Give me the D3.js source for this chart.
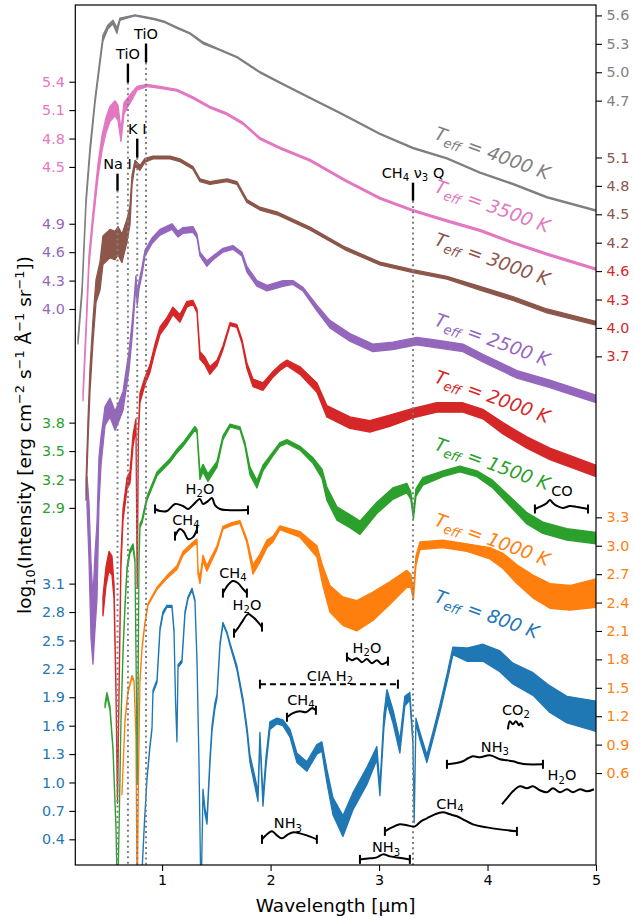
<!DOCTYPE html>
<html>
<head>
<meta charset="utf-8">
<script src="https://cdn.jsdelivr.net/npm/d3@7"></script>
<style>
  body { margin: 0; background: #fff; }
  text { font-family: "DejaVu Sans", sans-serif; }
</style>
</head>
<body>
<svg id="chart" width="634" height="918"></svg>
<script>
// ---------------------------------------------------------------
// Model spectra, log10 intensity per effective temperature.
// Wavelengths in micron; flux in each spectrum's own log10 units;
// noise = half-width of the scatter band at that wavelength.
// ---------------------------------------------------------------
const wave4000 = [0.225,0.262,0.299,0.335,0.382,0.428,0.455,0.501,0.547,0.584,0.612,0.677,0.750,0.842,0.935,1.027,1.137,1.257,1.377,1.506,1.690,1.902,2.086,2.363,2.639,3.008,3.312,3.626,3.930,4.234,4.548,5.0];
const flux4000 = [2.16,2.69,3.64,4.17,4.70,5.12,5.36,5.48,5.53,5.44,5.56,5.58,5.60,5.58,5.56,5.53,5.47,5.41,5.31,5.25,5.16,5.00,4.89,4.73,4.57,4.35,4.20,4.09,3.94,3.82,3.68,3.54];
const noise4000 = [0.03,0.04,0.04,0.04,0.03,0.03,0.03,0.02,0.02,0.03,0.012,0.008,0.006,0.006,0.006,0.006,0.006,0.006,0.01,0.006,0.006,0.006,0.006,0.006,0.006,0.006,0.006,0.006,0.006,0.006,0.006,0.006];

const wave3500 = [0.271,0.299,0.326,0.363,0.409,0.446,0.483,0.520,0.566,0.594,0.621,0.649,0.677,0.724,0.769,0.861,0.981,1.137,1.285,1.442,1.598,1.746,1.902,2.086,2.363,2.686,3.008,3.313,3.626,3.930,4.235,4.548,5.0];
const flux3500 = [2.08,2.77,3.51,3.96,4.46,4.75,4.94,5.06,5.12,5.07,4.83,5.12,5.17,5.25,5.33,5.36,5.34,5.31,5.23,5.13,5.06,4.96,4.80,4.70,4.57,4.36,4.17,4.04,3.93,3.83,3.70,3.58,3.42];
const noise3500 = [0.05,0.06,0.06,0.06,0.07,0.08,0.08,0.08,0.08,0.08,0.06,0.06,0.05,0.04,0.02,0.012,0.01,0.01,0.01,0.01,0.01,0.01,0.01,0.01,0.01,0.01,0.01,0.01,0.01,0.01,0.01,0.01,0.01];

const wave3000 = [0.299,0.317,0.335,0.363,0.391,0.428,0.455,0.520,0.566,0.594,0.630,0.677,0.704,0.723,0.750,0.796,0.842,0.916,1.073,1.165,1.285,1.349,1.441,1.598,1.690,1.782,1.902,2.059,2.363,2.686,3.008,3.312,3.626,3.930,4.234,4.548,5.0];
const flux3000 = [1.58,2.21,2.74,3.27,3.69,3.85,4.12,4.19,4.17,4.22,4.14,4.33,4.49,4.86,5.04,4.99,5.07,5.10,5.10,5.07,4.99,4.86,4.83,4.86,4.83,4.64,4.56,4.51,4.35,4.14,3.98,3.90,3.83,3.72,3.61,3.48,3.35];
const noise3000 = [0.1,0.12,0.12,0.12,0.12,0.15,0.15,0.15,0.15,0.15,0.15,0.12,0.1,0.05,0.03,0.025,0.02,0.015,0.015,0.015,0.015,0.015,0.015,0.015,0.015,0.015,0.015,0.015,0.015,0.015,0.015,0.015,0.015,0.02,0.02,0.02,0.02];

const wave2500 = [0.308,0.326,0.345,0.363,0.382,0.400,0.418,0.437,0.474,0.520,0.566,0.603,0.640,0.667,0.695,0.723,0.741,0.759,0.771,0.787,0.815,0.842,0.907,0.981,1.091,1.147,1.193,1.285,1.322,1.349,1.413,1.469,1.561,1.653,1.736,1.782,1.874,1.967,2.114,2.206,2.298,2.427,2.547,2.731,2.943,3.127,3.349,3.533,3.773,3.957,4.271,4.575,5.0];
const flux2500 = [2.08,1.66,0.92,0.60,1.02,1.34,2.18,2.50,2.87,2.96,2.82,2.92,3.03,3.24,3.45,3.77,4.03,4.30,4.09,4.25,4.40,4.59,4.72,4.81,4.87,4.79,4.83,4.84,4.77,4.58,4.48,4.54,4.62,4.65,4.58,4.42,4.27,4.22,4.27,4.28,4.21,4.01,3.84,3.70,3.59,3.61,3.66,3.63,3.59,3.48,3.31,3.21,3.05];
const noise2500 = [0.15,0.3,0.4,0.35,0.4,0.4,0.25,0.15,0.1,0.1,0.1,0.1,0.1,0.1,0.1,0.08,0.06,0.05,0.05,0.04,0.04,0.03,0.03,0.03,0.03,0.03,0.03,0.03,0.02,0.02,0.03,0.02,0.02,0.02,0.02,0.03,0.03,0.03,0.03,0.02,0.02,0.03,0.04,0.04,0.04,0.04,0.04,0.04,0.04,0.04,0.04,0.04,0.04];

const wave2000 = [0.455,0.483,0.511,0.538,0.557,0.575,0.589,0.603,0.621,0.640,0.677,0.704,0.732,0.759,0.771,0.782,0.796,0.842,0.888,0.935,0.981,1.045,1.100,1.165,1.229,1.285,1.322,1.349,1.395,1.441,1.506,1.561,1.626,1.690,1.736,1.782,1.838,1.930,2.022,2.086,2.151,2.271,2.427,2.519,2.731,2.915,3.099,3.312,3.533,3.773,3.957,4.142,4.363,4.575,5.0];
const flux2000 = [1.06,1.38,1.54,1.49,1.22,0.16,-1.00,0.16,1.54,2.03,2.36,2.42,2.81,2.99,1.27,2.91,3.26,3.44,3.57,3.79,3.97,4.07,4.18,4.10,4.25,4.27,4.18,3.71,3.65,3.55,3.63,3.79,4.04,4.02,3.86,3.60,3.42,3.38,3.51,3.58,3.63,3.55,3.37,3.12,3.00,2.96,3.02,3.10,3.16,3.16,3.09,2.94,2.79,2.67,2.49];
const noise2000 = [0.1,0.1,0.1,0.1,0.08,0.03,0.02,0.03,0.06,0.06,0.06,0.06,0.06,0.05,0.02,0.03,0.05,0.04,0.04,0.04,0.04,0.04,0.04,0.04,0.03,0.02,0.02,0.04,0.04,0.04,0.03,0.02,0.015,0.015,0.02,0.03,0.04,0.04,0.03,0.03,0.03,0.04,0.05,0.06,0.06,0.06,0.06,0.05,0.05,0.05,0.05,0.06,0.06,0.06,0.06];

const wave1500 = [0.474,0.492,0.520,0.547,0.575,0.589,0.603,0.621,0.640,0.658,0.677,0.704,0.732,0.750,0.764,0.771,0.778,0.787,0.796,0.815,0.861,0.953,1.073,1.137,1.193,1.303,1.322,1.349,1.377,1.423,1.506,1.561,1.626,1.718,1.764,1.810,1.874,1.930,2.022,2.086,2.151,2.271,2.391,2.474,2.519,2.612,2.731,2.824,2.980,3.127,3.256,3.293,3.317,3.340,3.404,3.589,3.745,3.902,4.049,4.206,4.363,4.510,4.731,5.0];
const flux1500 = [0.81,0.93,0.78,0.36,-0.48,-1.30,-0.52,0.65,1.39,1.86,2.26,2.44,2.50,2.34,0.86,0.01,0.86,2.34,2.71,2.76,3.00,3.26,3.40,3.50,3.57,3.74,3.71,3.24,3.32,3.22,3.36,3.64,3.77,3.74,3.57,3.29,3.15,3.32,3.47,3.57,3.60,3.53,3.40,3.26,3.05,2.84,2.76,2.69,2.90,3.05,3.11,3.03,2.81,3.06,3.18,3.26,3.31,3.26,3.15,2.97,2.79,2.69,2.62,2.58];
const noise1500 = [0.02,0.02,0.02,0.015,0.01,0.01,0.01,0.015,0.02,0.02,0.02,0.02,0.02,0.02,0.01,0.01,0.01,0.02,0.02,0.02,0.02,0.02,0.02,0.02,0.02,0.02,0.02,0.04,0.04,0.04,0.03,0.02,0.015,0.015,0.02,0.04,0.04,0.03,0.02,0.02,0.02,0.02,0.03,0.05,0.07,0.07,0.07,0.07,0.06,0.06,0.05,0.04,0.03,0.04,0.04,0.03,0.03,0.03,0.04,0.05,0.06,0.06,0.06,0.06];

const wave1000 = [0.630,0.658,0.686,0.723,0.741,0.759,0.770,0.782,0.796,0.815,0.842,0.870,0.953,1.045,1.137,1.193,1.285,1.322,1.331,1.349,1.377,1.413,1.506,1.561,1.644,1.718,1.782,1.838,1.902,1.967,2.022,2.086,2.271,2.427,2.482,2.547,2.666,2.795,2.943,3.099,3.256,3.293,3.317,3.340,3.377,3.589,3.810,4.022,4.142,4.271,4.418,4.575,4.759,5.0];
const flux1000 = [0.38,1.15,1.46,1.62,1.57,0.99,-0.76,0.51,1.57,1.92,2.18,2.38,2.55,2.67,2.77,2.92,3.02,3.05,2.73,2.63,2.87,2.76,2.98,3.19,3.23,3.25,3.05,2.75,2.87,3.02,3.07,3.19,3.12,2.94,2.68,2.44,2.31,2.26,2.36,2.50,2.65,2.63,2.47,2.84,3.00,3.02,2.98,2.92,2.84,2.70,2.57,2.47,2.45,2.50];
const noise1000 = [0.01,0.01,0.01,0.01,0.01,0.01,0.01,0.01,0.01,0.01,0.01,0.01,0.012,0.015,0.02,0.02,0.02,0.02,0.03,0.03,0.03,0.03,0.02,0.015,0.015,0.015,0.02,0.05,0.04,0.04,0.03,0.02,0.03,0.06,0.1,0.14,0.15,0.16,0.15,0.12,0.09,0.07,0.04,0.05,0.04,0.04,0.04,0.06,0.08,0.1,0.12,0.13,0.13,0.15];

const wave800 = [0.796,0.815,0.838,0.861,0.888,0.907,0.916,0.953,0.981,1.008,1.045,1.091,1.110,1.124,1.137,1.147,1.183,1.211,1.239,1.276,1.303,1.322,1.340,1.359,1.377,1.395,1.414,1.441,1.460,1.487,1.506,1.534,1.561,1.598,1.626,1.690,1.746,1.782,1.810,1.856,1.884,1.902,1.930,1.958,1.994,2.059,2.114,2.179,2.243,2.335,2.427,2.473,2.519,2.575,2.667,2.759,2.888,2.980,3.008,3.045,3.073,3.128,3.192,3.238,3.284,3.312,3.324,3.340,3.377,3.441,3.496,3.561,3.626,3.681,3.810,3.958,4.114,4.234,4.419,4.575,4.732,5.0];
const flux800 = [-0.26,0.06,0.59,1.04,1.38,1.57,1.96,2.07,2.62,2.79,2.86,2.86,2.60,1.86,1.44,2.23,2.28,2.79,2.95,3.04,2.92,2.28,1.22,-0.26,0.91,0.70,0.59,1.22,1.57,1.81,1.91,2.46,2.68,2.58,2.46,2.21,1.86,1.56,1.25,1.01,0.85,1.49,0.80,1.22,1.60,1.65,1.63,1.52,1.26,1.17,1.35,1.38,1.07,0.75,0.54,0.80,1.07,1.31,0.91,1.65,1.91,1.70,1.38,1.86,1.91,1.44,0.59,1.65,1.49,1.25,1.49,1.78,2.10,2.39,2.35,2.37,2.28,2.15,2.04,1.88,1.77,1.70];
const noise800 = [0.01,0.01,0.01,0.01,0.01,0.01,0.015,0.015,0.015,0.015,0.01,0.01,0.015,0.015,0.01,0.015,0.015,0.015,0.01,0.01,0.01,0.015,0.015,0.01,0.02,0.03,0.03,0.03,0.03,0.03,0.02,0.015,0.01,0.01,0.015,0.02,0.025,0.03,0.04,0.05,0.05,0.04,0.05,0.05,0.04,0.03,0.03,0.04,0.05,0.05,0.05,0.05,0.07,0.09,0.11,0.09,0.09,0.07,0.05,0.07,0.07,0.07,0.07,0.05,0.04,0.03,0.015,0.03,0.04,0.04,0.04,0.04,0.04,0.04,0.07,0.09,0.11,0.11,0.12,0.14,0.14,0.16];

// Per-spectrum settings (coolest first, so hotter spectra sit on top)
const temps    = [800, 1000, 1500, 2000, 2500, 3000, 3500, 4000];
const colours  = ["#1f77b4", "#ff7f0e", "#2ca02c", "#d62728", "#9467bd", "#8c564b", "#e377c2", "#7f7f7f"];
const offsets  = [0, 0.5, 1.0, 1.8, 2.0, 2.5, 3.0, 3.5];        // vertical stacking shift
const axisSide = ["left", "right", "left", "right", "left", "right", "left", "right"];
const ticks800  = [0.4, 0.7, 1.0, 1.3, 1.6, 1.9, 2.2, 2.5, 2.8, 3.1];
const ticks1000 = [0.6, 0.9, 1.2, 1.5, 1.8, 2.1, 2.4, 2.7, 3.0, 3.3];
const ticks1500 = [2.9, 3.2, 3.5, 3.8];
const ticks2000 = [3.7, 4.0, 4.3, 4.6];
const ticks2500 = [4.0, 4.3, 4.6, 4.9];
const ticks3000 = [4.2, 4.5, 4.8, 5.1];
const ticks3500 = [4.5, 4.8, 5.1, 5.4];
const ticks4000 = [4.7, 5.0, 5.3, 5.6];
const xTicks    = [1, 2, 3, 4, 5];
// Temperature captions: anchor wavelength and level (own log10 units)
const captionWave  = 3.5;
const captionLevel = [2.91, 3.22, 3.52, 3.43, 3.83, 4.18, 4.24, 4.30];

// Atomic / molecular line identifications (levels in stacked plot units)
const lineWave   = [0.589, 0.685, 0.771, 0.852, 3.313];
const lineTop    = [7.429, 8.592, 7.799, 8.803, 7.334];
const lineBottom = [7.250, 8.391, 7.598, 8.603, 7.144];

// Opacity band outlines (wavelength, level in stacked plot units)
const waterJ_w = [0.935,0.981,1.045,1.119,1.193,1.239,1.285,1.349,1.377,1.423,1.460,1.487,1.534,1.598,1.792];
const waterJ_y = [3.888,3.867,3.867,3.941,3.920,3.888,3.930,3.994,3.941,3.972,4.004,3.930,3.888,3.877,3.877];
const methJ_w  = [1.119,1.165,1.202,1.239,1.285,1.322];
const methJ_y  = [3.602,3.676,3.644,3.570,3.591,3.676];
const methH_w  = [1.561,1.607,1.653,1.699,1.746,1.782];
const methH_y  = [3.000,3.085,3.127,3.106,3.043,3.000];
const waterH_w = [1.663,1.699,1.736,1.792,1.838,1.884,1.921];
const waterH_y = [2.577,2.630,2.694,2.778,2.747,2.694,2.641];
const ciaH2_w  = [1.902,3.174];
const ciaH2_y  = [2.038,2.038];
const waterL_w = [2.704,2.750,2.796,2.842,2.888,2.934,2.980,3.026,3.082];
const waterL_y = [2.324,2.292,2.313,2.271,2.303,2.260,2.292,2.250,2.281];
const methK_w  = [2.151,2.206,2.271,2.326,2.381,2.418];
const methK_y  = [1.689,1.732,1.753,1.742,1.784,1.763];
const ammK_w   = [1.921,1.967,2.013,2.059,2.105,2.161,2.216,2.271,2.335,2.427];
const ammK_y   = [0.400,0.453,0.484,0.442,0.410,0.453,0.474,0.463,0.442,0.400];
const ammL_w   = [2.824,2.916,2.980,3.035,3.100,3.164,3.284];
const ammL_y   = [0.188,0.199,0.209,0.241,0.220,0.209,0.188];
const methL_w  = [3.054,3.119,3.192,3.257,3.331,3.386,3.441,3.515,3.589,3.654,3.718,3.792,3.866,3.995,4.114,4.271];
const methL_y  = [0.484,0.526,0.558,0.548,0.537,0.590,0.621,0.664,0.685,0.664,0.643,0.600,0.558,0.526,0.505,0.484];
const ammM_w   = [3.626,3.700,3.773,3.820,3.866,3.930,4.022,4.114,4.179,4.234,4.299,4.363,4.511];
const ammM_y   = [1.192,1.203,1.224,1.256,1.277,1.266,1.288,1.245,1.235,1.224,1.203,1.192,1.192];
const co2_w    = [4.188,4.206,4.234,4.262,4.290,4.308,4.326];
const co2_y    = [1.562,1.647,1.615,1.647,1.605,1.626,1.584];
const waterM_w = [4.133,4.179,4.234,4.299,4.363,4.419,4.483,4.548,4.603,4.668,4.732,4.787,4.852,4.916,4.981];
const waterM_y = [0.770,0.833,0.907,0.960,0.939,0.960,0.918,0.897,0.939,0.897,0.929,0.897,0.929,0.907,0.929];
const co_w     = [4.437,4.502,4.548,4.575,4.603,4.640,4.695,4.760,4.825,4.926];
const co_y     = [3.888,3.920,3.952,3.983,3.952,3.920,3.899,3.920,3.909,3.888];
// caption positions of the bands (wavelength, baseline level)
const bandTextWave  = [1.349, 1.220, 1.653, 1.782, 2.548, 2.889, 2.280, 2.160, 3.064, 3.654, 4.068, 4.262, 4.686, 4.686];
const bandTextLevel = [4.047, 3.719, 3.159, 2.820, 2.070, 2.366, 1.816, 0.516, 0.262, 0.717, 1.319, 1.710, 1.023, 4.025];

// ---------------------------------------------------------------
const plot = { left: 75.3, right: 596, top: 5, bottom: 865 };
const x = d3.scaleLinear().domain([0.2, 5]).range([plot.left, plot.right]);
const y = d3.scaleLinear().domain([0.1288, 9.210]).range([plot.bottom, plot.top]);

const svg = d3.select("#chart");
svg.append("defs").append("clipPath").attr("id", "plotClip")
  .append("rect")
  .attr("x", plot.left).attr("y", plot.top)
  .attr("width", plot.right - plot.left).attr("height", plot.bottom - plot.top);

const waves  = [wave800, wave1000, wave1500, wave2000, wave2500, wave3000, wave3500, wave4000];
const fluxes = [flux800, flux1000, flux1500, flux2000, flux2500, flux3000, flux3500, flux4000];
const noises = [noise800, noise1000, noise1500, noise2000, noise2500, noise3000, noise3500, noise4000];
const tickSets = [ticks800, ticks1000, ticks1500, ticks2000, ticks2500, ticks3000, ticks3500, ticks4000];

const spectra = temps.map((t, i) => ({
  temp: t, colour: colours[i], offset: offsets[i], side: axisSide[i], ticks: tickSets[i],
  points: waves[i].map((w, j) => ({ w, f: fluxes[i][j], n: noises[i][j] }))
}));

// spectra: scatter band with its outline
const specLayer = svg.append("g").attr("clip-path", "url(#plotClip)");
spectra.forEach(s => {
  const band = d3.area()
    .x(d => x(d.w))
    .y0(d => y(d.f + s.offset - d.n))
    .y1(d => y(d.f + s.offset + d.n));
  specLayer.append("path")
    .attr("d", band(s.points))
    .attr("fill", s.colour)
    .attr("stroke", s.colour)
    .attr("stroke-width", 1.3)
    .attr("stroke-linejoin", "round");
});

// dotted guides under each line identification
const guideLayer = svg.append("g").attr("clip-path", "url(#plotClip)");
lineWave.forEach((w, i) => {
  guideLayer.append("line")
    .attr("x1", x(w)).attr("x2", x(w))
    .attr("y1", y(lineBottom[i])).attr("y2", plot.bottom)
    .attr("stroke", "#808080").attr("stroke-width", 2)
    .attr("stroke-dasharray", "2,3.3");
});

// rich text helper: parts = [[text, "sub"|"sup"|null], ...]
function richText(sel, parts, fs) {
  let shift = 0;
  parts.forEach(([t, kind]) => {
    let target = 0, size = fs;
    if (kind === "sub") { target = 0.22 * fs; size = 0.7 * fs; }
    if (kind === "sup") { target = -0.38 * fs; size = 0.7 * fs; }
    const ts = sel.append("tspan").attr("font-size", size).text(t);
    if (target - shift !== 0) ts.attr("dy", target - shift);
    shift = target;
  });
}

// line identification markers
const annLayer = svg.append("g");
const lineNames = [
  [["Na I", null]],
  [["TiO", null]],
  [["K I", null]],
  [["TiO", null]],
  [["CH", null], ["4", "sub"], [" ν", null], ["3", "sub"], [" Q", null]]
];
lineWave.forEach((w, i) => {
  annLayer.append("line")
    .attr("x1", x(w)).attr("x2", x(w))
    .attr("y1", y(lineTop[i])).attr("y2", y(lineBottom[i]))
    .attr("stroke", "#000").attr("stroke-width", 2.4);
  const t = annLayer.append("text")
    .attr("x", x(w)).attr("y", y(lineTop[i]) - 5)
    .attr("text-anchor", "middle").attr("font-size", 14.5).attr("fill", "#000");
  richText(t, lineNames[i], 14.5);
});

// opacity band outlines
const bands = [
  { w: waterJ_w, y: waterJ_y, name: [["H", null], ["2", "sub"], ["O", null]], caps: [1, 1] },
  { w: methJ_w,  y: methJ_y,  name: [["CH", null], ["4", "sub"]], caps: [1, 1] },
  { w: methH_w,  y: methH_y,  name: [["CH", null], ["4", "sub"]], caps: [1, 1] },
  { w: waterH_w, y: waterH_y, name: [["H", null], ["2", "sub"], ["O", null]], caps: [1, 1] },
  { w: ciaH2_w,  y: ciaH2_y,  name: [["CIA H", null], ["2", "sub"]], caps: [1, 1], dashed: true },
  { w: waterL_w, y: waterL_y, name: [["H", null], ["2", "sub"], ["O", null]], caps: [1, 1] },
  { w: methK_w,  y: methK_y,  name: [["CH", null], ["4", "sub"]], caps: [1, 1] },
  { w: ammK_w,   y: ammK_y,   name: [["NH", null], ["3", "sub"]], caps: [1, 1] },
  { w: ammL_w,   y: ammL_y,   name: [["NH", null], ["3", "sub"]], caps: [1, 1] },
  { w: methL_w,  y: methL_y,  name: [["CH", null], ["4", "sub"]], caps: [1, 1] },
  { w: ammM_w,   y: ammM_y,   name: [["NH", null], ["3", "sub"]], caps: [1, 1] },
  { w: co2_w,    y: co2_y,    name: [["CO", null], ["2", "sub"]], caps: [0, 0] },
  { w: waterM_w, y: waterM_y, name: [["H", null], ["2", "sub"], ["O", null]], caps: [0, 0] },
  { w: co_w,     y: co_y,     name: [["CO", null]], caps: [1, 1] }
];
const outline = d3.line().x(d => x(d[0])).y(d => y(d[1])).curve(d3.curveCatmullRom.alpha(0.5));
bands.forEach((b, i) => {
  const pts = b.w.map((w, j) => [w, b.y[j]]);
  annLayer.append("path")
    .attr("d", outline(pts))
    .attr("fill", "none").attr("stroke", "#000").attr("stroke-width", 2)
    .attr("stroke-dasharray", b.dashed ? "6,4" : null);
  [0, pts.length - 1].forEach((k, e) => {
    if (!b.caps[e]) return;
    const px = x(pts[k][0]), py = y(pts[k][1]);
    annLayer.append("line")
      .attr("x1", px).attr("x2", px).attr("y1", py - 4.5).attr("y2", py + 4.5)
      .attr("stroke", "#000").attr("stroke-width", 2);
  });
  const t = annLayer.append("text")
    .attr("x", x(bandTextWave[i])).attr("y", y(bandTextLevel[i]))
    .attr("text-anchor", "middle").attr("font-size", 14.5).attr("fill", "#000");
  richText(t, b.name, 14.5);
});

// temperature captions
spectra.forEach((s, i) => {
  const px = x(captionWave), py = y(captionLevel[i] + s.offset);
  const t = svg.append("text")
    .attr("transform", `translate(${px},${py}) rotate(20)`)
    .attr("font-size", 18.5).attr("font-style", "italic").attr("fill", s.colour);
  richText(t, [["T", null], ["eff", "sub"], [" = " + s.temp + " K", null]], 18.5);
});

// per-spectrum y axes
spectra.forEach(s => {
  const sc = d3.scaleLinear()
    .domain([y.domain()[0] - s.offset, y.domain()[1] - s.offset])
    .range(y.range());
  const ax = (s.side === "left" ? d3.axisLeft(sc) : d3.axisRight(sc))
    .tickValues(s.ticks).tickFormat(d3.format(".1f"))
    .tickSize(6).tickPadding(4.5);
  const g = svg.append("g")
    .attr("transform", `translate(${s.side === "left" ? plot.left : plot.right},0)`)
    .call(ax);
  g.select(".domain").remove();
  g.selectAll(".tick line").attr("stroke", "#000").attr("stroke-width", 1.1);
  g.selectAll(".tick text").attr("fill", s.colour).attr("font-size", 14.3)
    .attr("font-family", "DejaVu Sans");
});

// x axis
const gx = svg.append("g").attr("transform", `translate(0,${plot.bottom})`)
  .call(d3.axisBottom(x).tickValues(xTicks).tickFormat(d3.format("d")).tickSize(6).tickPadding(4));
gx.select(".domain").remove();
gx.selectAll(".tick line").attr("stroke", "#000").attr("stroke-width", 1.1);
gx.selectAll(".tick text").attr("fill", "#000").attr("font-size", 14.3).attr("font-family", "DejaVu Sans");

// frame
svg.append("rect")
  .attr("x", plot.left).attr("y", plot.top)
  .attr("width", plot.right - plot.left).attr("height", plot.bottom - plot.top)
  .attr("fill", "none").attr("stroke", "#000").attr("stroke-width", 1.2);

// axis titles
svg.append("text")
  .attr("x", (plot.left + plot.right) / 2).attr("y", 912)
  .attr("text-anchor", "middle").attr("font-size", 18.5).attr("fill", "#000")
  .text("Wavelength [µm]");

const yt = svg.append("text")
  .attr("transform", `translate(31,${(plot.top + plot.bottom) / 2}) rotate(-90)`)
  .attr("text-anchor", "middle").attr("font-size", 18.5).attr("fill", "#000");
richText(yt, [["log", null], ["10", "sub"], ["(Intensity [erg cm", null], ["−2", "sup"],
  [" s", null], ["−1", "sup"], [" Å", null], ["−1", "sup"], [" sr", null], ["−1", "sup"], ["])", null]], 18.5);
</script>
</body>
</html>
